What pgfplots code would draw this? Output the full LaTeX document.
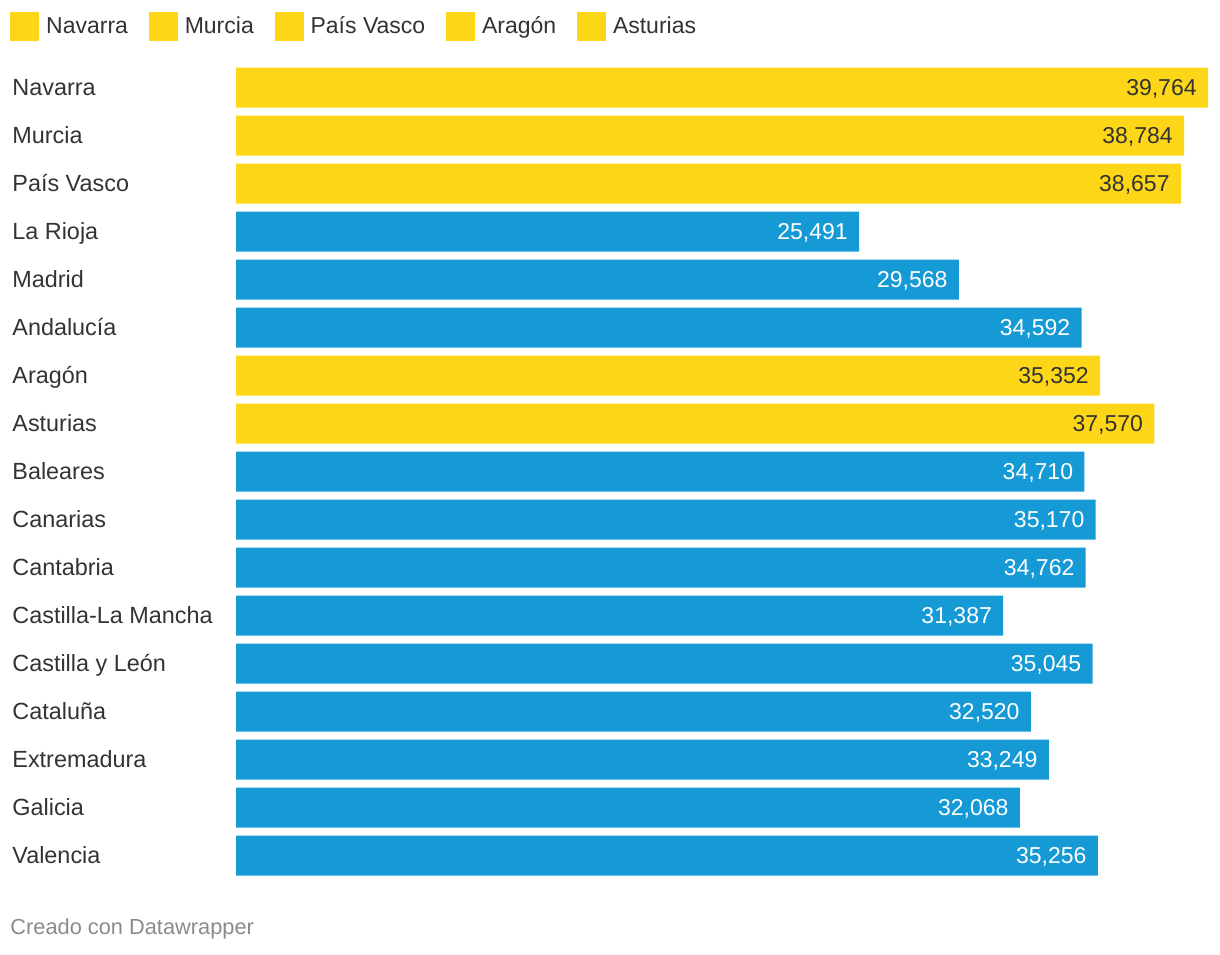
\documentclass[border=0pt]{standalone}
\usepackage{pgfplots}
\pgfplotsset{compat=1.18}
\usepackage{fontspec}
\setmainfont{Liberation Sans}
\definecolor{ycol}{HTML}{FDD717}
\definecolor{bcol}{HTML}{159AD5}
\definecolor{txt}{HTML}{333333}
\definecolor{foot}{HTML}{8A8A8A}
\begin{document}
\begin{tikzpicture}
\path[use as bounding box] (0,0) rectangle (610pt,477pt);
\begin{axis}[
  at={(118pt,37.25pt)}, anchor=south west,
  scale only axis, width=486pt, height=408pt,
  xmin=0, xmax=39764, ymin=-0.5, ymax=16.5,
  enlargelimits=false, y dir=reverse, clip=false,
  xbar, bar width=0.8333, bar shift=0pt,
  hide x axis,
  axis y line*=left, y axis line style={draw=none},
  major tick length=0pt,
  ytick={0,...,16},
  yticklabels={Navarra,Murcia,País Vasco,La Rioja,Madrid,Andalucía,Aragón,Asturias,Baleares,Canarias,Cantabria,Castilla-La Mancha,Castilla y León,Cataluña,Extremadura,Galicia,Valencia},
  yticklabel style={anchor=west, xshift=-112pt, yshift=-0.5pt, inner sep=0pt, font=\fontsize{11.7pt}{14pt}\selectfont, text=txt, text height=1.5ex, text depth=0.25ex},
  /pgf/number format/.cd, fixed, precision=0, 1000 sep={,}, assume math mode=true,
  /pgfplots/.cd,
  nodes near coords,
  every node near coord/.append style={anchor=east, xshift=-5.5pt, yshift=-0.5pt, inner sep=0pt, font=\fontsize{11.5pt}{14pt}\selectfont, text height=1.5ex, text depth=0.25ex},
  legend columns=5,
  legend style={draw=none, fill=none, inner sep=0pt, at={(axis description cs:0,1)}, anchor=north west, xshift=-113pt, yshift=25.75pt,
    nodes={inner sep=0pt, font=\fontsize{11.5pt}{14pt}\selectfont, text=txt, text height=1.5ex, text depth=0.25ex},
    /tikz/every even column/.append style={column sep=10.5pt},
    /tikz/every odd column/.append style={column sep=3.5pt}},
  legend image code/.code={\fill[ycol] (0pt,-7pt) rectangle (14pt,7pt);},
]
\addplot[fill=ycol, draw=none, every node near coord/.append style={text=txt}, forget plot]
  coordinates {(39764,0) (38784,1) (38657,2) (35352,6) (37570,7)};
\addplot[fill=bcol, draw=none, every node near coord/.append style={text=white}, forget plot]
  coordinates {(25491,3) (29568,4) (34592,5) (34710,8) (35170,9) (34762,10) (31387,11) (35045,12) (32520,13) (33249,14) (32068,15) (35256,16)};
\addlegendimage{ycol}\addlegendentry{Navarra}
\addlegendimage{ycol}\addlegendentry{Murcia}
\addlegendimage{ycol}\addlegendentry{País Vasco}
\addlegendimage{ycol}\addlegendentry{Aragón}
\addlegendimage{ycol}\addlegendentry{Asturias}
\end{axis}
\node[anchor=west, inner sep=0pt, text=foot, font=\fontsize{10.9pt}{12pt}\selectfont] at (5pt,12.5pt) {Creado con Datawrapper};
\end{tikzpicture}
\end{document}
